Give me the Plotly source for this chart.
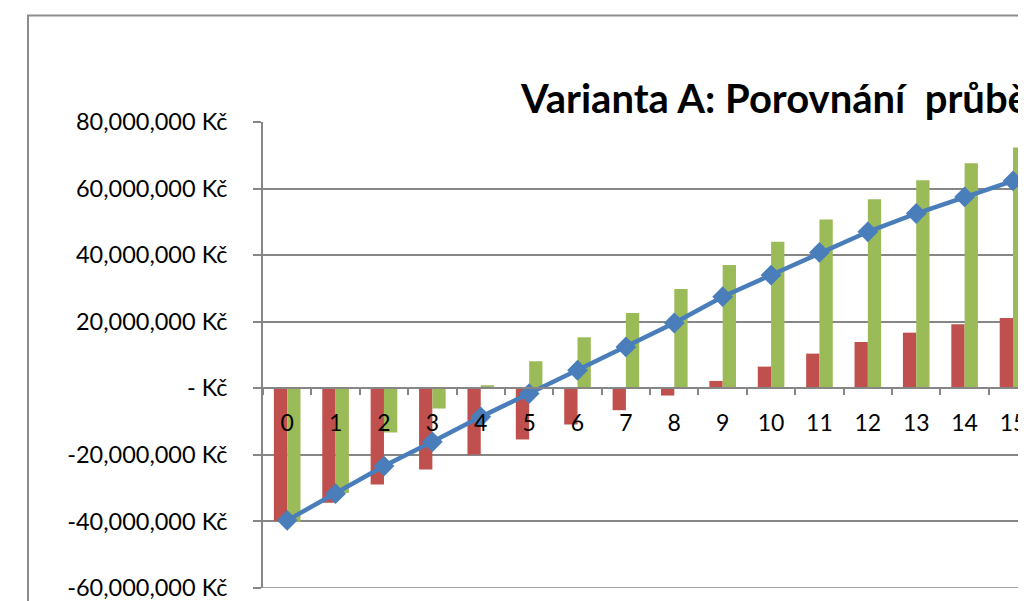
import plotly.graph_objects as go

# --- data (values in Kč) ---
years = [str(i) for i in range(16)]
series_red = [-39.9e6, -34.4e6, -28.9e6, -24.4e6, -19.9e6, -15.4e6, -10.9e6, -6.6e6,
              -2.2e6, 2.2e6, 6.5e6, 10.4e6, 13.9e6, 16.7e6, 19.2e6, 21.1e6]
series_green = [-40.2e6, -31.5e6, -13.3e6, -6.1e6, 0.9e6, 8.1e6, 15.3e6, 22.6e6,
                29.8e6, 37.0e6, 44.0e6, 50.7e6, 56.8e6, 62.5e6, 67.6e6, 72.3e6]
series_line = [-39.7e6, -31.7e6, -23.4e6, -16.1e6, -8.6e6, -1.6e6, 5.4e6, 12.4e6,
               19.6e6, 27.5e6, 34.0e6, 40.8e6, 47.0e6, 52.5e6, 57.5e6, 62.3e6]
y_tickvals = [-60e6, -40e6, -20e6, 0, 20e6, 40e6, 60e6, 80e6]
y_ticktext = ["-60,000,000 Kč", "-40,000,000 Kč", "-20,000,000 Kč", "- Kč",
              "20,000,000 Kč", "40,000,000 Kč", "60,000,000 Kč", "80,000,000 Kč"]
title_text = "Varianta A: Porovnání\u00a0 průběhu"

OFF = 8  # page body margin
W, H = 1026 - OFF, 601 - OFF
L, T, B = 263 - OFF, 122 - OFF, 601 - 588
plot_w = W - L
plot_h = H - T - B

def px_x(px):  # page pixel -> paper x
    return (px - OFF - L) / plot_w

def px_y(py):  # page pixel -> paper y
    return (H - B - (py - OFF)) / plot_h

grid = "#868686"
FONT = "Lato"

fig = go.Figure()
fig.add_trace(go.Bar(x=years, y=series_red, marker=dict(color="#C0504D", line=dict(width=0)),
                     showlegend=False))
fig.add_trace(go.Bar(x=years, y=series_green, marker=dict(color="#9BBB59", line=dict(width=0)),
                     showlegend=False))
fig.add_trace(go.Scatter(x=years, y=series_line, mode="lines+markers",
                         line=dict(color="#4A7EBB", width=4.5),
                         marker=dict(symbol="diamond", size=16, color="#4A7EBB"),
                         showlegend=False))

fig.update_layout(
    width=W, height=H,
    margin=dict(l=L, r=0, t=T, b=B, pad=0),
    paper_bgcolor="white", plot_bgcolor="white",
    barmode="group", bargap=0.45, bargroupgap=0,
    font=dict(family=FONT, size=23, color="#000000"),
    showlegend=False,
    xaxis=dict(type="category", range=[-0.5, -0.5 + plot_w / 48.9],
               anchor="free", position=60 / 140,
               showline=True, linecolor=grid, linewidth=1.5,
               ticks="outside", tickson="boundaries", ticklen=6, tickcolor=grid, tickwidth=1.5,
               ticklabelstandoff=14,
               showgrid=False, zeroline=False,
               tickfont=dict(family=FONT, size=23, color="#000000")),
    yaxis=dict(range=[-60.03e6, 80e6], tickvals=y_tickvals, ticktext=y_ticktext,
               showline=True, linecolor=grid, linewidth=1.5,
               ticks="outside", ticklen=8, tickcolor=grid, tickwidth=1.5,
               ticklabelstandoff=21, ticklabeloverflow="allow",
               showgrid=True, gridcolor=grid, gridwidth=1.5, zeroline=False,
               tickfont=dict(family=FONT, size=23.5, color="#000000")),
)

# bottom gridline at the lowest tick (plotly drops grid lines at the axis ends)
fig.add_shape(type="line", xref="paper", yref="y", x0=0, x1=1,
              y0=y_tickvals[0], y1=y_tickvals[0],
              line=dict(color=grid, width=1.5), layer="below")

# chart-area border (cropped: only left and top edges visible)
fig.add_shape(type="path", xref="paper", yref="paper",
              path=f"M {px_x(25.5)} {px_y(640)} L {px_x(25.5)} {px_y(15.5)} L {px_x(1100)} {px_y(15.5)}",
              line=dict(color="#8c8c8c", width=2), layer="above")

fig.add_annotation(text=title_text, xref="paper", yref="paper",
                   x=px_x(521), y=px_y(98), xanchor="left", yanchor="middle",
                   showarrow=False,
                   font=dict(family=FONT, size=40, color="#000000", weight="bold"))

fig.write_html("out.html")
